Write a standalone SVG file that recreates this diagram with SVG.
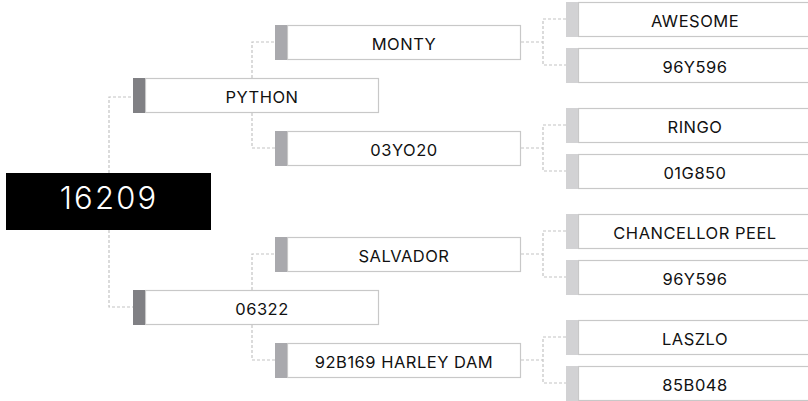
<svg xmlns="http://www.w3.org/2000/svg" width="808" height="401" viewBox="0 0 808 401">
<style>
.box{fill:#fff;stroke:#c8c8c8;stroke-width:1.2}
.b1{fill:#808084}
.b2{fill:#a9a9ad}
.b3{fill:#d2d2d4}
.t{font-family:Inter,"Liberation Sans",sans-serif;font-size:16.5px;fill:#111;text-anchor:middle;letter-spacing:0.5px}
.root{font-family:Inter,"Liberation Sans",sans-serif;font-size:31px;font-weight:300;fill:#fff;text-anchor:middle;letter-spacing:2.2px}
.c{fill:none;stroke:#c4c4c4;stroke-width:1.2;stroke-dasharray:3 2}
</style>
<rect width="808" height="401" fill="#fff"/>
<g id="connectors">
<path class="c" d="M109,173 V97 H133 M109,230 V307 H133"/>
<path class="c" d="M252,78 V42 H275 M252,113 V148 H275 M252,290 V254 H275 M252,325 V360 H275"/>
<path class="c" d="M521,42 H543 M566,19 H543 V65 H566"/>
<path class="c" d="M521,148 H543 M566,125 H543 V171 H566"/>
<path class="c" d="M521,254 H543 M566,231 H543 V277 H566"/>
<path class="c" d="M521,360 H543 M566,337 H543 V383 H566"/>
</g>
<g id="n-16209">
<rect x="6" y="173" width="205" height="57" fill="#000"/>
<text class="root" x="109" y="208.5">16209</text>
</g>
<g id="n-python">
<rect class="box" x="145.5" y="78.5" width="233" height="34"/>
<rect class="b1" x="133" y="78" width="12" height="35"/>
<text class="t" x="262" y="103">PYTHON</text>
</g>
<g id="n-06322">
<rect class="box" x="145.5" y="290.5" width="233" height="34"/>
<rect class="b1" x="133" y="290" width="12" height="35"/>
<text class="t" x="262" y="315">06322</text>
</g>
<g id="n-monty">
<rect class="box" x="287.5" y="25.5" width="233" height="34"/>
<rect class="b2" x="275" y="25" width="12" height="35"/>
<text class="t" x="404" y="50">MONTY</text>
</g>
<g id="n-03yo20">
<rect class="box" x="287.5" y="131.5" width="233" height="34"/>
<rect class="b2" x="275" y="131" width="12" height="35"/>
<text class="t" x="404" y="156">03YO20</text>
</g>
<g id="n-salvador">
<rect class="box" x="287.5" y="237.5" width="233" height="34"/>
<rect class="b2" x="275" y="237" width="12" height="35"/>
<text class="t" x="404" y="262">SALVADOR</text>
</g>
<g id="n-92b169">
<rect class="box" x="287.5" y="343.5" width="233" height="34"/>
<rect class="b2" x="275" y="343" width="12" height="35"/>
<text class="t" x="404" y="368">92B169 HARLEY DAM</text>
</g>
<g id="n-awesome">
<rect class="box" x="578.5" y="2.5" width="233" height="34"/>
<rect class="b3" x="566" y="2" width="12" height="35"/>
<text class="t" x="695" y="27">AWESOME</text>
</g>
<g id="n-96y596-a">
<rect class="box" x="578.5" y="48.5" width="233" height="34"/>
<rect class="b3" x="566" y="48" width="12" height="35"/>
<text class="t" x="695" y="73">96Y596</text>
</g>
<g id="n-ringo">
<rect class="box" x="578.5" y="108.5" width="233" height="34"/>
<rect class="b3" x="566" y="108" width="12" height="35"/>
<text class="t" x="695" y="133">RINGO</text>
</g>
<g id="n-01g850">
<rect class="box" x="578.5" y="154.5" width="233" height="34"/>
<rect class="b3" x="566" y="154" width="12" height="35"/>
<text class="t" x="695" y="179">01G850</text>
</g>
<g id="n-chancellor">
<rect class="box" x="578.5" y="214.5" width="233" height="34"/>
<rect class="b3" x="566" y="214" width="12" height="35"/>
<text class="t" x="695" y="239">CHANCELLOR PEEL</text>
</g>
<g id="n-96y596-b">
<rect class="box" x="578.5" y="260.5" width="233" height="34"/>
<rect class="b3" x="566" y="260" width="12" height="35"/>
<text class="t" x="695" y="285">96Y596</text>
</g>
<g id="n-laszlo">
<rect class="box" x="578.5" y="320.5" width="233" height="34"/>
<rect class="b3" x="566" y="320" width="12" height="35"/>
<text class="t" x="695" y="345">LASZLO</text>
</g>
<g id="n-85b048">
<rect class="box" x="578.5" y="366.5" width="233" height="34"/>
<rect class="b3" x="566" y="366" width="12" height="35"/>
<text class="t" x="695" y="391">85B048</text>
</g>
</svg>
